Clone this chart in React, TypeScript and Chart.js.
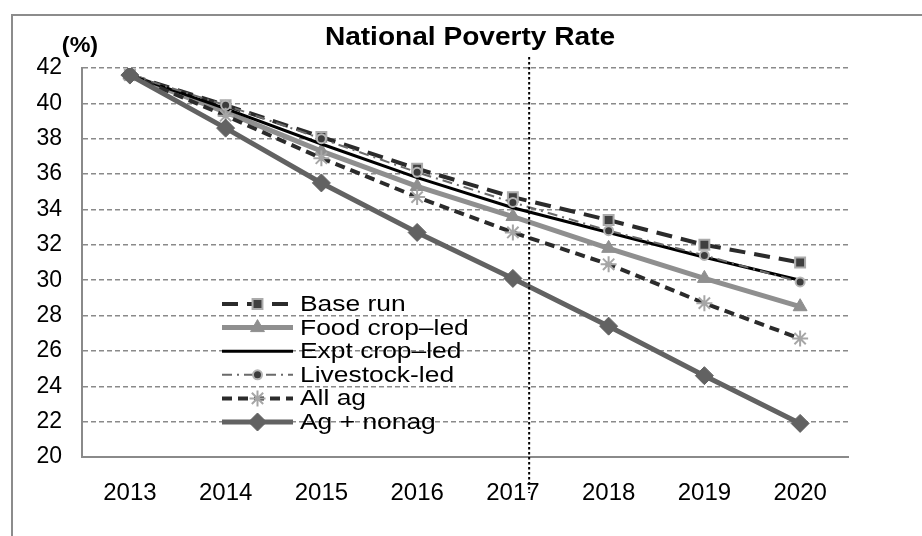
import React, { useEffect, useRef } from 'react';
import { Chart, registerables } from 'chart.js';
import { drawPoint } from 'chart.js/helpers';

Chart.register(...registerables);

// ---- data ----
const years = ['2013', '2014', '2015', '2016', '2017', '2018', '2019', '2020'];
const baseRun = [41.6, 39.9, 38.1, 36.3, 34.7, 33.4, 32.0, 31.0];
const foodCropLed = [41.6, 39.5, 37.3, 35.3, 33.6, 31.8, 30.1, 28.5];
const exptCropLed = [41.6, 39.7, 37.7, 35.8, 34.1, 32.7, 31.3, 30.0];
const livestockLed = [41.6, 39.9, 38.0, 36.1, 34.4, 32.8, 31.4, 29.9];
const allAg = [41.6, 39.3, 36.9, 34.7, 32.7, 30.9, 28.7, 26.7];
const agNonag = [41.6, 38.6, 35.5, 32.7, 30.1, 27.4, 24.6, 21.9];

const seriesNames = ['Base run', 'Food crop\u2013led', 'Expt crop\u2013led', 'Livestock-led', 'All ag', 'Ag + nonag'];
const yMin = 20;
const yMax = 42;
const yStep = 2;
const chartTitle = 'National Poverty Rate';
const unitLabel = '(%)';
// category position of the dotted separator between observed and projected years
const projectionStart = 4.17;

const FONT = '"Liberation Sans", Arial, Helvetica, sans-serif';
const GRID = '#8a8a8a';

// draws text slightly widened horizontally
function wideText(ctx: CanvasRenderingContext2D, text: string, x: number, y: number, sx: number) {
  ctx.save();
  ctx.translate(x, y);
  ctx.scale(sx, 1);
  ctx.fillText(text, 0, 0);
  ctx.restore();
}

// frame, title, unit label, separator and in-plot legend
const decorPlugin = {
  id: 'decor',
  beforeDraw(chart: any) {
    const ctx = chart.ctx;
    ctx.save();
    ctx.fillStyle = '#ffffff';
    ctx.fillRect(0, 0, chart.width, chart.height);
    ctx.strokeStyle = '#8c8c8c';
    ctx.lineWidth = 2;
    ctx.beginPath();
    ctx.moveTo(12, chart.height + 5);
    ctx.lineTo(12, 15);
    ctx.lineTo(chart.width + 5, 15);
    ctx.stroke();
    ctx.restore();
  },
  afterDraw(chart: any) {
    const ctx = chart.ctx;
    const area = chart.chartArea;
    ctx.save();
    // title
    ctx.fillStyle = '#000';
    ctx.textAlign = 'center';
    ctx.textBaseline = 'middle';
    ctx.font = `bold 26px ${FONT}`;
    wideText(ctx, chartTitle, 470, 38, 1.08);
    ctx.font = `bold 22px ${FONT}`;
    wideText(ctx, unitLabel, 80, 46, 1.06);

    // legend inside the plot
    const rowStart = 304;
    const rowStep = 23.6;
    const x0 = 222;
    const x1 = 293;
    ctx.textAlign = 'left';
    ctx.font = `22px ${FONT}`;
    chart.data.datasets.forEach((ds: any, i: number) => {
      const y = rowStart + i * rowStep;
      ctx.save();
      ctx.strokeStyle = ds.borderColor;
      ctx.lineWidth = ds.borderWidth;
      ctx.setLineDash(ds.borderDash || []);
      ctx.beginPath();
      ctx.moveTo(x0, y);
      ctx.lineTo(x1, y);
      ctx.stroke();
      ctx.setLineDash([]);
      if (ds.pointRadius > 0) {
        ctx.fillStyle = ds.pointBackgroundColor;
        ctx.strokeStyle = ds.pointBorderColor;
        ctx.lineWidth = ds.pointBorderWidth;
        drawPoint(ctx, { pointStyle: ds.pointStyle, radius: ds.pointRadius, rotation: 0, borderWidth: ds.pointBorderWidth }, (x0 + x1) / 2, y);
      }
      ctx.restore();
      ctx.fillStyle = '#000';
      wideText(ctx, ds.label, 300, y + 1, 1.2);
    });

    // dotted separator
    const xs = chart.scales.x.getPixelForValue(projectionStart);
    ctx.strokeStyle = '#000';
    ctx.lineWidth = 2;
    ctx.setLineDash([2.5, 2.5]);
    ctx.beginPath();
    ctx.moveTo(xs, area.top - 11);
    ctx.lineTo(xs, area.bottom + 36);
    ctx.stroke();
    ctx.restore();
  },
};

export default function App() {
  const canvasRef = useRef<HTMLCanvasElement | null>(null);

  useEffect(() => {
    document.body.style.margin = '0';
    const canvas = canvasRef.current;
    if (!canvas) return;
    const chart = new Chart(canvas, {
      type: 'line',
      data: {
        labels: years,
        datasets: [
          {
            label: seriesNames[0],
            data: baseRun,
            borderColor: '#2b2b2b',
            borderWidth: 4,
            borderDash: [16, 9],
            pointStyle: 'rect',
            pointRadius: 7,
            pointBackgroundColor: '#404040',
            pointBorderColor: '#ababab',
            pointBorderWidth: 2,
            order: 6,
          },
          {
            label: seriesNames[1],
            data: foodCropLed,
            borderColor: '#8f8f8f',
            borderWidth: 5,
            pointStyle: 'triangle',
            pointRadius: 8,
            pointBackgroundColor: '#8f8f8f',
            pointBorderColor: '#8f8f8f',
            pointBorderWidth: 1,
            order: 5,
          },
          {
            label: seriesNames[2],
            data: exptCropLed,
            borderColor: '#000000',
            borderWidth: 3,
            pointRadius: 0,
            order: 4,
          },
          {
            label: seriesNames[3],
            data: livestockLed,
            borderColor: '#6a6a6a',
            borderWidth: 2,
            borderDash: [10, 5, 2, 5],
            pointStyle: 'circle',
            pointRadius: 4.5,
            pointBackgroundColor: '#3c3c3c',
            pointBorderColor: '#b4b4b4',
            pointBorderWidth: 2,
            order: 3,
          },
          {
            label: seriesNames[4],
            data: allAg,
            borderColor: '#2b2b2b',
            borderWidth: 4,
            borderDash: [10, 6],
            pointStyle: 'star',
            pointRadius: 8,
            pointBackgroundColor: '#a6a6a6',
            pointBorderColor: '#a6a6a6',
            pointBorderWidth: 2,
            order: 2,
          },
          {
            label: seriesNames[5],
            data: agNonag,
            borderColor: '#626262',
            borderWidth: 5,
            pointStyle: 'rectRot',
            pointRadius: 9,
            pointBackgroundColor: '#626262',
            pointBorderColor: '#626262',
            pointBorderWidth: 1,
            order: 1,
          },
        ],
      },
      options: {
        animation: false,
        responsive: true,
        maintainAspectRatio: false,
        events: [],
        elements: { line: { tension: 0 } },
        layout: { padding: { left: 0, top: 68, right: 74, bottom: 0 } },
        plugins: {
          legend: { display: false },
          title: { display: false },
          tooltip: { enabled: false },
        },
        scales: {
          x: {
            type: 'category',
            offset: true,
            grid: { display: false },
            border: { display: true, color: GRID, width: 2 },
            ticks: {
              color: '#000',
              font: { family: FONT, size: 24 },
              padding: 14,
              maxRotation: 0,
              autoSkip: false,
            },
            afterFit: (s: any) => {
              s.height = 79;
            },
          },
          y: {
            min: yMin,
            max: yMax,
            grid: { color: GRID, lineWidth: 1.5, drawTicks: false },
            border: { display: true, color: GRID, width: 2, dash: [5, 3] },
            ticks: {
              stepSize: yStep,
              color: '#000',
              font: { family: FONT, size: 23 },
              padding: 20,
            },
            afterFit: (s: any) => {
              s.width = 82;
            },
          },
        },
      },
      plugins: [decorPlugin],
    });
    return () => chart.destroy();
  }, []);

  return (
    <div style={{ position: 'relative', width: 922, height: 536 }}>
      <canvas ref={canvasRef} />
    </div>
  );
}
